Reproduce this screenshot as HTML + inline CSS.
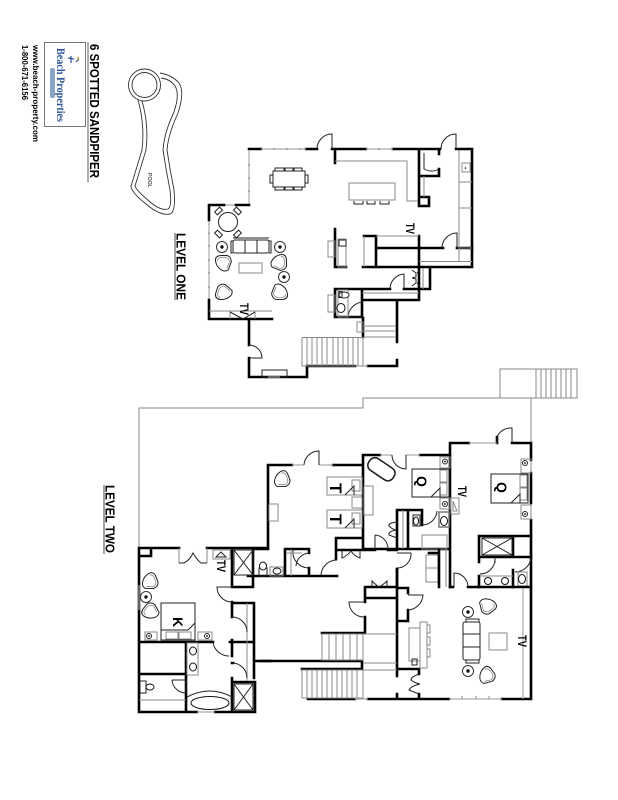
<!DOCTYPE html>
<html><head><meta charset="utf-8"><style>
html,body{margin:0;padding:0;background:#fff}
svg{display:block}
.k{stroke:#000;stroke-width:2.6;fill:none;stroke-linecap:square}
.t{stroke:#222;stroke-width:1;fill:none}
.g{stroke:#888;stroke-width:1;fill:none}
.w{stroke:#aaa;stroke-width:1.2;fill:none}
text{font-family:"Liberation Sans",sans-serif;font-weight:bold;fill:#000}
</style></head><body>
<svg width="618" height="800" viewBox="0 0 618 800" xmlns="http://www.w3.org/2000/svg">
<defs>
<g id="chair"><path d="M-8,-3 Q-8,-8 -3,-8 L4,-7 Q8,-5 7.500,0 L3,7.500 Q0,9 -3,7 Q-8,3 -8,-3Z" fill="#fff" stroke="#222" stroke-width="1"/><path d="M-6,-3 Q-6,-6 -2,-6 L3,-5 Q6,-3 5.500,0 L2,5.500" fill="none" stroke="#777" stroke-width=".7"/></g>
<g id="lamp"><circle r="5.500" fill="#fff" stroke="#333" stroke-width="1"/><circle r="1.700" fill="#111"/></g>
</defs>
<!-- Title block -->
<g transform="translate(90,44) rotate(90)"><text font-size="13" textLength="134" lengthAdjust="spacingAndGlyphs">6 SPOTTED SANDPIPER</text></g>
<line x1="88" y1="42" x2="88" y2="182" stroke="#333" stroke-width=".8"/>
<rect x="44.500" y="42.500" width="41" height="84" fill="#fff" stroke="#777" stroke-width="1"/>
<g transform="translate(57,48) rotate(90)"><text font-size="12" textLength="74" lengthAdjust="spacingAndGlyphs" style="font-family:'Liberation Serif',serif;fill:#2b5597">Beach Properties</text></g>
<rect x="50" y="68" width="5" height="30" rx="2" fill="#8aa4c8"/>
<path d="M68,58l6,1m-3,-3v7m8,-4l-3,3" stroke="#2b5597" stroke-width="1.200" fill="none"/>
<circle cx="78" cy="58" r="1.200" fill="#d9b640"/>
<g transform="translate(33,45) rotate(90)"><text font-size="8.500" textLength="97" lengthAdjust="spacingAndGlyphs">www.beach-property.com</text></g>
<g transform="translate(22,45) rotate(90)"><text font-size="8" textLength="55" lengthAdjust="spacingAndGlyphs">1-800-671-6156</text></g>
<!-- Pool -->
<g style="stroke:#333;stroke-width:.9;fill:none">
<circle cx="144.500" cy="85" r="16"/><circle cx="144.500" cy="85" r="12.500"/>
<path d="M160,73 Q172,75 179,83 Q185,92 178,113 Q168,135 167,150 Q170,170 174,190 Q176,212 170,214 Q160,216 146,204 Q131,192 131,186 Q136,170 142,150 Q145,125 138,100"/>
<path d="M161,78 Q170,79 175,86 Q180,94 174,112 Q164,133 163,150 Q166,170 170,190 Q172,207 168,209 Q160,211 149,201 Q136,190 135,186 Q140,170 146,150 Q149,125 142,101"/>
</g>
<g transform="translate(148,173) rotate(90)"><text font-size="5.200" style="font-weight:normal">POOL</text></g>
<g transform="translate(176.500,233) rotate(90)"><text font-size="12.500" textLength="67" lengthAdjust="spacingAndGlyphs">LEVEL ONE</text></g>
<line x1="175" y1="233" x2="175" y2="300" stroke="#333" stroke-width=".9"/>
<g transform="translate(105.500,485) rotate(90)"><text font-size="12.500" textLength="68" lengthAdjust="spacingAndGlyphs">LEVEL TWO</text></g>
<line x1="104" y1="485" x2="104" y2="554" stroke="#333" stroke-width=".9"/>

<!-- LEVEL ONE -->
<path class="k" d="M249,149H261M306,149H317M332,149H366M393,149H440M456,149H472V267H363M335,149V163M419,149V206H429V197H419M439,149V154M439,169V176H420"/>
<path class="w" d="M261,149H306M366,149H393M249,150V205M224,205H236M209,220V300"/>
<path class="g" d="M248,165H250M248,178H250M248,191H250M208,233H210M208,246H210M208,260H210M208,273H210M208,287H210M274,148V150M287,148V150M300,148V150M379,148V150"/>
<path class="k" d="M249,205H236M224,205H209V220M209,300V319H272M335,229V267H346M364,236H376V267M376,248H443M457,248H472M419,236V300M430,268V289H415M335,289H390M404,289H419M335,289V317H362V289M362,300H419M397,300V342M363,318V337M397,360V366H368M355,366H307V377H249V358M249,345V320"/>
<path class="g" d="M335,161H407V201H418M424,176V197M459,150V262M459,182H472M459,208H472M459,248H472M419,261.500H472M364,236V267M376,236H419M423,268V289M362,293H419M363,326H396M363,331H396M363,337H396M357,322H363V332H357ZM209,311H272M230,311V319M255,311V319"/>
<path class="t" d="M332,149V134A15,15 0 0 0 317,149M456,149V134A15,15 0 0 0 441,149M457,248V233A15,15 0 0 0 442,248M404,289V274A15,15 0 0 0 390,289M249,345A13,13 0 0 1 262,358H249M424,153V169A15,15 0 0 0 439,169M363,302A16,16 0 0 0 348,317H362"/>
<rect x="462" y="163" width="8" height="9" class="g"/><circle cx="465.500" cy="168" r=".8" fill="#000"/>
<rect x="349" y="183" width="46" height="17" class="g"/>
<path class="t" d="M354,201V204H363V201M367,201V204H375V201M380,201V204H389V201"/>
<rect x="273" y="171" width="32" height="16" class="t"/>
<path class="t" d="M275,171V168H284V171M285,171V168H293V171M294,171V168H302V171M275,187V190H284V187M285,187V190H293V187M294,187V190H302V187M273,175H270V183H273M305,175H308V183H305"/>
<rect x="338" y="239" width="8" height="28" class="g"/><rect x="339" y="240" width="7" height="6" class="t"/><rect x="328" y="241" width="7" height="16" class="g"/>
<g transform="translate(406,223) rotate(90)"><text font-size="12" textLength="11" lengthAdjust="spacingAndGlyphs">TV</text></g>
<!-- living lvl1 -->
<circle cx="228" cy="222" r="9.500" fill="#fff" stroke="#222"/>
<g stroke="#222" fill="#fff"><rect x="215" y="209" width="7" height="4" transform="rotate(-45 218.500 211)"/><rect x="234" y="209" width="7" height="4" transform="rotate(45 237.500 211)"/><rect x="215" y="232" width="7" height="4" transform="rotate(45 218.500 234)"/><rect x="234" y="232" width="7" height="4" transform="rotate(-45 237.500 234)"/></g>
<rect x="233" y="240" width="36" height="13" rx="2" class="t"/><path class="t" d="M233,241H231V253H233M269,241H271V253H269M245,240V253M257,240V253M233,238H269"/>
<rect x="239" y="263" width="23" height="10" class="g"/>
<use href="#lamp" x="222" y="247"/><use href="#lamp" x="280" y="247"/><use href="#lamp" x="284" y="277"/>
<use href="#chair" x="224" y="263" transform="rotate(-10 224 263)"/><use href="#chair" x="279" y="263" transform="rotate(80 279 263)"/><use href="#chair" x="224" y="292" transform="rotate(-80 224 292)"/><use href="#chair" x="279" y="292" transform="rotate(170 279 292)"/>
<g transform="translate(240,303) rotate(90)"><text font-size="12" textLength="12" lengthAdjust="spacingAndGlyphs">TV</text></g>
<path class="t" d="M230,312L243,319L255,312"/>
<!-- powder -->
<rect x="338" y="290" width="10" height="27" class="g"/><rect x="328" y="295" width="7" height="17" class="g"/>
<ellipse cx="344" cy="295" rx="5" ry="3" fill="#fff" stroke="#222"/><rect x="339" y="291.500" width="3" height="6" class="t"/><ellipse cx="341" cy="308" rx="4" ry="4.500" fill="#fff" stroke="#111"/>
<path class="t" d="M412,270L416,273V277L412,278M412,286L416,283V279L412,278M420,270L417,273M420,286L417,283"/>
<!-- level1 stairs -->
<rect x="302" y="337.500" width="61" height="28.500" class="g"/>
<path class="g" d="M307,338V366M312,338V366M317,338V366M322,338V366M327,338V366M333,338V366M338,338V366M343,338V366M348,338V366M353,338V366M358,338V366M355,366H368"/>
<rect x="262" y="370" width="25" height="7" class="t"/><path class="w" d="M268,377H280"/>

<!-- LEVEL TWO outline thin -->
<path class="g" d="M500,398V369H577V398H363V408H139V548M531,398V443M531,460V473M531,503V520"/>
<path class="g" d="M536,369V398M541,369V398M546,369V398M551,369V398M556,369V398M561,369V398M566,369V398M571,369V398"/>
<!-- upper bedrooms -->
<path class="k" d="M450,443H469M512,443H531V460M531,473V503M531,520V587M497,443V437M450,443V587M363,455H380M420,455H450M363,455V549M268,465H292M333,465H363M268,465V549M336,538H363M336,538V559M336,550H375M388,550H397M397,510V549M397,569V587M397,510H422V525M408,510V549M363,549H450M285,576V549H309V553M309,568V576M248,576H337M268,549H255"/>
<path class="w" d="M469,443H497M380,455H392M406,455H420M292,465H304M319,465H333"/>
<path class="t" d="M497,443V437A15,15 0 0 1 512,428V443M392,455A14,14 0 0 0 406,469V455M319,465V451A15,15 0 0 0 304,465M437,511A15,15 0 0 1 422,525M375,535V549M375,535A14,14 0 0 1 388,549M293,550A16,16 0 0 0 309,568M309,553A14,14 0 0 0 296,566M337,560A16,16 0 0 0 321,575M397,553H411A14,14 0 0 1 397,568"/>
<!-- Q bed 1 -->
<rect x="412" y="469" width="37" height="28" class="t"/><rect x="440" y="470" width="7" height="12" class="g"/><rect x="440" y="483" width="7" height="12" class="g"/><path class="t" d="M431,497L440,488V497"/>
<text font-size="14" transform="translate(417,476) rotate(90)">Q</text>
<rect x="440" y="457" width="10" height="11" class="g"/><circle cx="445" cy="461.500" r="2.500" fill="none" stroke="#222"/><circle cx="445" cy="461.500" r=".9"/>
<rect x="440" y="498" width="10" height="11" class="g"/><circle cx="445" cy="504" r="2.500" fill="none" stroke="#222"/><circle cx="445" cy="504" r=".9"/>
<!-- Q bed 2 -->
<rect x="491" y="474" width="37" height="29" class="t"/><rect x="520" y="475" width="7" height="12" class="g"/><rect x="520" y="488" width="7" height="12" class="g"/><path class="t" d="M511,503L520,494V503"/>
<text font-size="14" transform="translate(497,482) rotate(90)">Q</text>
<rect x="521" y="459" width="10" height="14" class="g"/><circle cx="525" cy="463" r="2.500" fill="none" stroke="#222"/><circle cx="525" cy="463" r=".9"/>
<rect x="521" y="505" width="10" height="14" class="g"/><circle cx="525" cy="514" r="2.500" fill="none" stroke="#222"/><circle cx="525" cy="514" r=".9"/>
<g transform="translate(458,486) rotate(90)"><text font-size="12" textLength="11" lengthAdjust="spacingAndGlyphs">TV</text></g>
<path class="g" d="M451,498H459V514H451ZM453,501L457,511H453Z"/>
<rect x="367" y="462" width="29" height="14" rx="6" transform="rotate(34 381 469)" fill="#fff" stroke="#222" stroke-width="1.600"/>
<rect x="364" y="486" width="9" height="29" class="g"/>
<!-- T beds -->
<rect x="327" y="477" width="35" height="18" class="g"/><rect x="352" y="480" width="8" height="11" class="g"/><path class="t" d="M345,495L354,486V495"/>
<text font-size="17" transform="translate(330,483) rotate(90)">T</text>
<rect x="327" y="510" width="35" height="18" class="g"/><rect x="352" y="513" width="8" height="11" class="g"/><path class="t" d="M345,528L354,519V528"/>
<text font-size="17" transform="translate(330,514) rotate(90)">T</text>
<rect x="352" y="497" width="10" height="11" class="g"/>
<rect x="269" y="504" width="9" height="17" class="g"/>
<use href="#chair" x="282" y="480" transform="rotate(60 282 480)"/>
<!-- bath Q1 -->
<path class="g" d="M403,510V549M422,535H447V549H422Z"/><rect x="439" y="512" width="10" height="15" fill="none" stroke="#777" stroke-width="1.500"/><ellipse cx="444" cy="521" rx="3.500" ry="4.500" fill="#fff" stroke="#111"/><path class="t" d="M413,515H420V526H413Z"/><ellipse cx="416" cy="521" rx="2.500" ry="4" fill="#fff" stroke="#111"/>
<path class="t" d="M397,522Q388,523 389,526Q393,530 397,530M397,530Q388,531 389,535L397,538"/>
<path class="t" d="M342,550V558Q347,556 351,551Q354,556 360,558V550"/>
<!-- master Q closet/bath -->
<path class="k" d="M479,536H531M479,536V557H531M513,536V557M479,557V562M479,576V587M513,570V587"/>
<rect x="482" y="538" width="30" height="17" class="t"/><path class="t" d="M482,538L512,555M512,538L482,555"/>
<path class="t" d="M495,557V563M495,558A15,15 0 0 1 480,574M531,558A16,16 0 0 1 515,572"/>
<ellipse cx="488" cy="581" rx="3.500" ry="3.500" fill="#fff" stroke="#111"/><ellipse cx="505" cy="581" rx="3.500" ry="3.500" fill="#fff" stroke="#111"/><path class="g" d="M480,576H513"/>
<rect x="518" y="572" width="9" height="14" class="g"/><ellipse cx="522" cy="579" rx="3.500" ry="4.500" fill="#fff" stroke="#111"/>
<rect x="426" y="555" width="12" height="27" class="g"/><path class="g" d="M426,568H438"/>
<path class="k" d="M439,550V587M429,553H438"/>
<path class="g" d="M446,549V587"/>
<!-- LOWER RIGHT -->
<path class="k" d="M365,598V587H397M450,587H453M468,587H531M531,587V699H502M449,699H368M355,699H308M397,569V676M397,694V699M365,617V633H322M365,598H397M365,598V602M397,621H408V610M408,593V588H397M397,669H419V674M419,694V699M260,661H362V669H302"/>
<path class="w" d="M523,588V699M355,699H368M449,699H502"/>
<path class="g" d="M462,699V696M476,699V696M489,699V696"/>
<path class="t" d="M454,587V573A14,14 0 0 1 468,587M365,602H349A15,15 0 0 0 365,617M408,610A16,16 0 0 0 423,595H408M419,674Q411,677 411,680Q415,683 420,684M420,684Q411,686 409,690L419,694"/>
<path class="t" d="M372,587V581Q376,585 379,587Q383,585 387,581V587"/>
<rect x="409" y="628" width="11" height="33" class="g"/><rect x="420" y="622" width="7" height="46" class="g"/>
<path class="g" d="M427,625H430V633H427M427,637H430V645H427M427,649H430V657H427"/>
<rect x="412" y="659" width="5" height="6" class="t"/>
<rect x="463" y="622" width="17" height="38" rx="2" class="t"/><path class="t" d="M463,634H480M463,647H480M466,622V619H479V622M466,660V663H479V660"/>
<rect x="489" y="633" width="18" height="17" class="g"/>
<use href="#lamp" x="468" y="612"/><use href="#lamp" x="468" y="671"/>
<use href="#chair" x="487" y="606" transform="rotate(135 487 606)"/><use href="#chair" x="487" y="676" transform="rotate(45 487 676)"/>
<g transform="translate(518,635) rotate(90)"><text font-size="12" textLength="12" lengthAdjust="spacingAndGlyphs">TV</text></g>
<!-- stairs -->
<rect x="322" y="634" width="41" height="26" class="g"/><path class="g" d="M329,634V660M336,634V660M343,634V660M350,634V660M357,634V660M363,663H397M363,670H397M363,634H397"/>
<rect x="302" y="670" width="61" height="28" class="g"/><path class="g" d="M307,670V698M312,670V698M317,670V698M322,670V698M327,670V698M332,670V698M337,670V698M342,670V698M347,670V698M352,670V698M357,670V698"/>
<!-- KING SUITE -->
<path class="k" d="M139,548H179M207,548H268M139,548V712H197M215,712H255V682M139,556H151V548M232,548V587H253M253,548V587M232,602V617M232,603H254V678M254,661H270M139,642H213M230,642H254M232,640V656M232,663H233M232,678V682H254M232,682V712M186,642V712M139,674H186"/>
<path class="w" d="M197,712H215M139,585V610"/>
<path class="g" d="M179,548V563M207,548V563M247,603V681M139,700H186"/>
<path class="t" d="M179,563H184Q190,560 193,553Q197,560 201,563H207M232,587H217A15,15 0 0 0 232,602M232,617A15,15 0 0 1 247,632M213,642A16,16 0 0 0 229,656M232,663A15,15 0 0 1 247,678M172,680H186V693A14,14 0 0 1 172,680M187,697Q210,685 232,697"/>
<rect x="234" y="550" width="19" height="25" class="t"/><path class="t" d="M234,550L253,575M253,550L234,575"/>
<rect x="234" y="684" width="19" height="26" class="t"/><path class="t" d="M234,684L253,710M253,684L234,710"/>
<path class="g" d="M213,550H230V559H213Z"/><path class="t" d="M216,557L221,552L226,557Z"/>
<g transform="translate(217,560) rotate(90)"><text font-size="12" textLength="12" lengthAdjust="spacingAndGlyphs">TV</text></g>
<rect x="161" y="603" width="34" height="37" class="t"/><rect x="166" y="632" width="12" height="7" class="g"/><rect x="179" y="632" width="12" height="7" class="g"/><path class="t" d="M161,630H188L195,623V630"/>
<text font-size="14" transform="translate(173,617) rotate(90)">K</text>
<rect x="145" y="632" width="12" height="8" class="g"/><circle cx="149" cy="636" r="2.500" fill="none" stroke="#222"/><circle cx="149" cy="636" r=".9"/>
<rect x="198" y="632" width="14" height="8" class="g"/><circle cx="207" cy="636" r="2.500" fill="none" stroke="#222"/><circle cx="207" cy="636" r=".9"/>
<use href="#chair" x="150" y="582" transform="rotate(60 150 582)"/><use href="#chair" x="151" y="611" transform="rotate(-60 151 611)"/><use href="#lamp" x="146" y="597"/>
<rect x="187" y="643" width="11" height="32" class="g"/><ellipse cx="193" cy="651" rx="3.500" ry="4" fill="#fff" stroke="#111"/><ellipse cx="193" cy="667" rx="3.500" ry="4" fill="#fff" stroke="#111"/>
<ellipse cx="210" cy="703" rx="19" ry="6.500" fill="#fff" stroke="#111"/>
<rect x="140" y="681" width="6" height="12" class="t"/><ellipse cx="150" cy="687" rx="4" ry="3" fill="#fff" stroke="#111"/>
<!-- hall toilet -->
<rect x="259" y="568" width="8" height="8" class="t"/><ellipse cx="263" cy="566" rx="3.500" ry="4" fill="#fff" stroke="#111"/><rect x="270" y="567" width="13" height="9" class="g"/><ellipse cx="277" cy="571" rx="4" ry="3" fill="#fff" stroke="#111"/>
<path class="g" d="M291,549V576M287,553H302"/>
</svg>
</body></html>
